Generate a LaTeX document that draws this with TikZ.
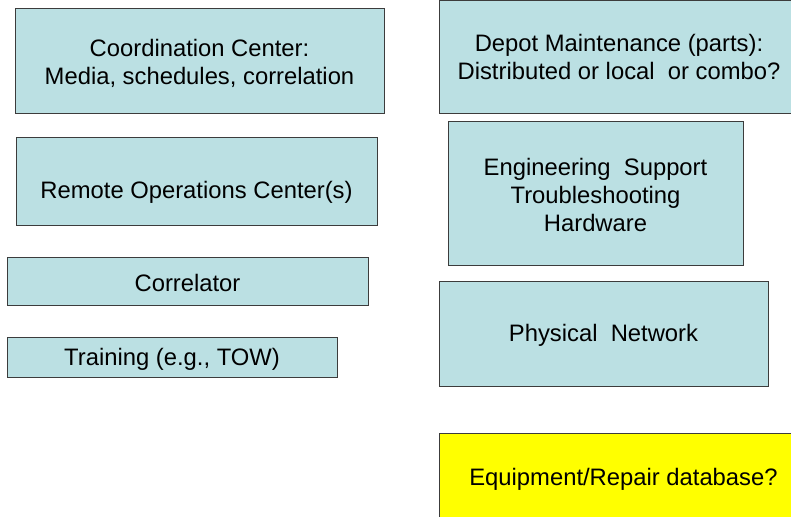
\documentclass[tikz,border=0pt]{standalone}
\usepackage{fontspec}
\setmainfont{Liberation Sans}
\definecolor{panel}{HTML}{BBE0E3}
\definecolor{edge}{HTML}{3C3C3C}
\definecolor{flag}{HTML}{FFFF00}
\tikzset{
  box/.style={draw=edge, line width=1pt, fill=panel, inner sep=0pt},
  flagbox/.style={box, fill=flag},
  label/.style={align=center, inner sep=0pt, text=black, yshift=-2pt,
                font=\fontsize{23.8}{28}\selectfont}
}
\begin{document}
\begin{tikzpicture}[x=1pt,y=-1pt]
\useasboundingbox (0,0) rectangle (791,516);
\fill[white] (0,0) rectangle (791,516);
\clip (0,0) rectangle (791,516);

% left column
\node[box, minimum width=369pt, minimum height=104pt] (coord) at (199.5,61) {};
\node[label] (coordtxt) at (coord.center) {Coordination Center:\\Media, schedules, correlation};

\node[box, minimum width=361pt, minimum height=88pt] (roc) at (196.5,181) {};
\node[label] (roctxt) at (196.5,190) {Remote Operations Center(s)};

\node[box, minimum width=361pt, minimum height=48pt] (corr) at (187.5,281) {};
\node[label] (corrtxt) at (corr.center) {Correlator};

\node[box, minimum width=330pt, minimum height=40pt] (train) at (172,357) {};
\node[label] (traintxt) at (172,357.5) {Training (e.g., TOW)};

% right column
\node[box, minimum width=360pt, minimum height=112pt] (depot) at (619,57) {};
\node[label] (depottxt) at (619,54.5) {Depot Maintenance (parts):\\Distributed or local\ \ or combo?};

\node[box, minimum width=295pt, minimum height=144pt] (eng) at (595.5,193) {};
\node[label] (engtxt) at (eng.center) {Engineering\ \ Support\\Troubleshooting\\Hardware};

\node[box, minimum width=329pt, minimum height=105pt] (phys) at (603.5,333.5) {};
\node[label] (phystxt) at (phys.center) {Physical\ \ Network};

\node[flagbox, minimum width=369pt, minimum height=88pt] (equip) at (623.5,477) {};
\node[label] (equiptxt) at (equip.center) {Equipment/Repair database?};
\end{tikzpicture}
\end{document}
